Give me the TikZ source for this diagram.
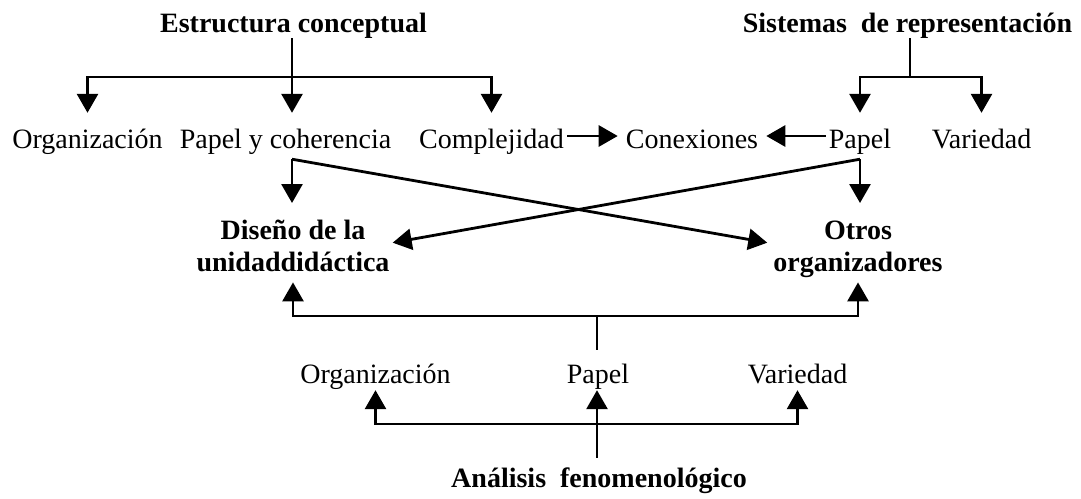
\documentclass[tikz,border=0pt]{standalone}
\usepackage{fontspec}
\setmainfont{Liberation Serif}
\usetikzlibrary{arrows.meta}
\begin{document}
\begin{tikzpicture}[x=1pt,y=-1pt,
  lbl/.style={font=\fontsize{28}{32}\selectfont, inner sep=0pt},
  ttl/.style={font=\fontsize{28}{32}\selectfont\bfseries, inner sep=0pt},
  rowa/.style={lbl, text height=35pt, text depth=11pt, inner xsep=3pt, anchor=base},
  rowc/.style={lbl, text height=33pt, text depth=7pt, inner xsep=3pt, anchor=base},
  ln/.style={line width=2.8pt},
  arr/.style={-{Triangle[width=21pt,length=19pt]}}]
\useasboundingbox (0,0) rectangle (1081,498);
% titles
\node[ttl, anchor=base, text depth=6pt] (ec) at (293.5,32) {Estructura conceptual};
\node[ttl, anchor=base, text depth=6pt] (sr) at (907.5,32) {Sistemas~~de representación};
% middle row
\node[rowa] (org) at (87.5,148) {Organización};
\node[rowa] (pyc) at (285.5,148) {Papel y coherencia};
\node[rowa] (comp) at (491.5,148) {Complejidad};
\node[rowa, inner xsep=8pt] (conex) at (692,148) {Conexiones};
\node[rowa] (pap) at (860,148) {Papel};
\node[rowa] (var) at (981.5,148) {Variedad};
% targets
\node[ttl, align=center, anchor=north, inner xsep=3pt] (dis) at (293,203)
  {\rule{0pt}{36pt}Diseño de la\\unidaddidáctica\rule[-11pt]{0pt}{11pt}};
\node[ttl, align=center, anchor=north, inner xsep=6pt] (otros) at (858,203)
  {\rule{0pt}{36pt}Otros\\organizadores\rule[-11pt]{0pt}{11pt}};
% bottom row
\node[rowc] (org2) at (375.5,383) {Organización};
\node[rowc] (pap2) at (598,383) {Papel};
\node[rowc] (var2) at (797.5,383) {Variedad};
\node[ttl, anchor=base, text height=29pt] (af) at (599,487) {Análisis~~fenomenológico};
% junctions
\coordinate (ecj) at (292,77);
\coordinate (srj) at (910,77);
\coordinate (mj) at (597,316);
\coordinate (bj) at (597,424);
% Estructura conceptual
\draw[ln] (ec.south -| ecj) -- (ecj);
\draw[ln,arr] (ecj) -| (org.north);
\draw[ln,arr] (ecj) -| (comp.north);
\draw[ln,arr] (ecj) -- (ecj |- pyc.north);
% Sistemas de representacion
\draw[ln] (sr.south -| srj) -- (srj);
\draw[ln,arr] (srj) -| (pap.north);
\draw[ln,arr] (srj) -| (var.north);
% horizontal arrows
\draw[ln,arr] (comp.east) -- (conex.west);
\draw[ln,arr] (pap.west) -- (conex.east);
% crossing
\draw[ln,arr] (ecj |- pyc.south) -- (ecj |- dis.north);
\draw[ln,arr] (ecj |- pyc.south) -- (otros.west);
\draw[ln,arr] (pap.south) -- (pap.south |- otros.north);
\draw[ln,arr] (pap.south) -- (dis.east);
% middle bar
\draw[ln] (mj) -- (mj |- pap2.north);
\draw[ln,arr] (mj) -| (dis.south);
\draw[ln,arr] (mj) -| (otros.south);
% bottom bar
\draw[ln,arr] (bj |- af.north) -- (bj |- pap2.south);
\draw[ln,arr] (bj) -| (org2.south);
\draw[ln,arr] (bj) -| (var2.south);
\end{tikzpicture}
\end{document}
